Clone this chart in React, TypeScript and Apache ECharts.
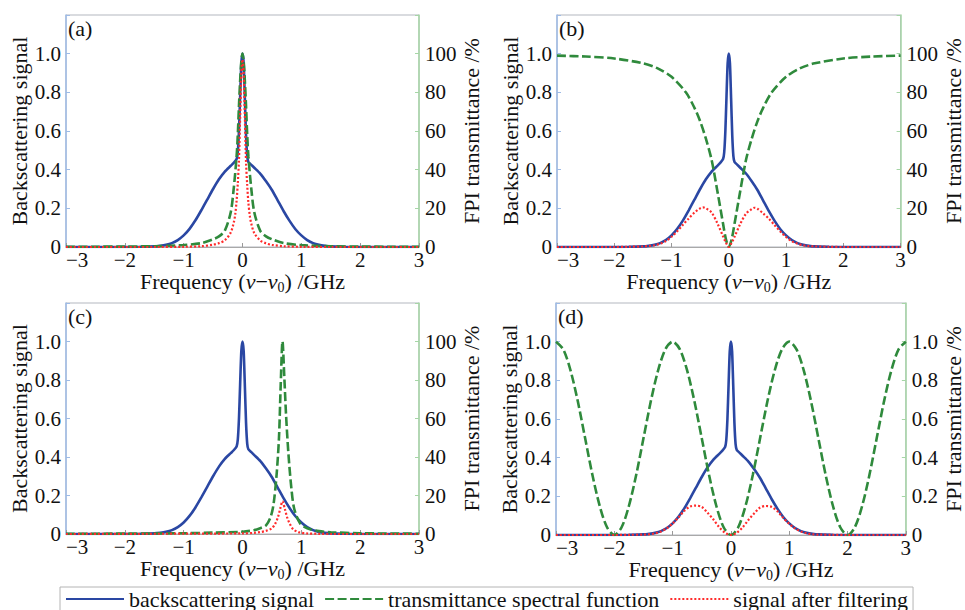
import React, { useEffect, useRef } from "react";
import * as echarts from "echarts";

// ---------- data ----------
const X_TICK_LABELS = ["\u22123", "\u22122", "\u22121", "0", "1", "2", "3"];
const LEFT_TICK_LABELS = ["0", "0.2", "0.4", "0.6", "0.8", "1.0"];
const RIGHT_PCT_LABELS = ["0", "20", "40", "60", "80", "100"];
const RIGHT_FRAC_LABELS = ["0", "0.2", "0.4", "0.6", "0.8", "1.0"];
const PANEL_LABELS = ["(a)", "(b)", "(c)", "(d)"];
const SERIES_NAMES = ["backscattering signal", "transmittance spectral function", "signal after filtering"];

// backscattering signal (same in all panels)
const X_BLUE = [-3, -2.5, -2, -1.75, -1.5, -1.4, -1.3, -1.2, -1.1, -1.0, -0.9, -0.8, -0.7, -0.6, -0.5, -0.4, -0.3, -0.2, -0.15, -0.1, -0.08, -0.06, -0.04, -0.02, 0, 0.02, 0.04, 0.06, 0.08, 0.1, 0.15, 0.2, 0.3, 0.4, 0.5, 0.6, 0.7, 0.8, 0.9, 1.0, 1.1, 1.2, 1.3, 1.4, 1.5, 1.75, 2, 2.5, 3];
const BLUE = [0, 0, 0, 0.001, 0.003, 0.006, 0.011, 0.02, 0.036, 0.06, 0.094, 0.138, 0.19, 0.245, 0.3, 0.35, 0.39, 0.42, 0.435, 0.455, 0.49, 0.6, 0.78, 0.95, 1.0, 0.95, 0.77, 0.58, 0.47, 0.44, 0.425, 0.41, 0.38, 0.34, 0.295, 0.24, 0.185, 0.135, 0.092, 0.06, 0.036, 0.02, 0.011, 0.006, 0.003, 0.001, 0, 0, 0];

// (a) transmittance (%) and filtered signal
const X_GA = [-3, -2.5, -2, -1.5, -1, -0.7, -0.5, -0.4, -0.3, -0.2, -0.15, -0.1, -0.08, -0.06, -0.04, -0.02, 0, 0.02, 0.04, 0.06, 0.08, 0.1, 0.15, 0.2, 0.3, 0.4, 0.5, 0.7, 1, 1.5, 2, 2.5, 3];
const GA = [0.1, 0.15, 0.25, 0.4, 1, 2, 4, 5.5, 8.5, 18, 30, 47, 58, 73, 86, 96, 100, 96, 86, 73, 58, 47, 30, 18, 8.5, 5.5, 4, 2, 1, 0.4, 0.25, 0.15, 0.1];
const X_RA = [-3, -2, -1.5, -1, -0.7, -0.5, -0.4, -0.3, -0.2, -0.15, -0.125, -0.1, -0.08, -0.06, -0.04, -0.02, 0, 0.02, 0.04, 0.06, 0.08, 0.1, 0.125, 0.15, 0.2, 0.3, 0.4, 0.5, 0.7, 1, 1.5, 2, 3];
const RA = [0, 0, 0, 0.001, 0.004, 0.012, 0.02, 0.035, 0.075, 0.125, 0.165, 0.24, 0.33, 0.45, 0.67, 0.9, 0.97, 0.9, 0.67, 0.44, 0.32, 0.23, 0.16, 0.12, 0.072, 0.034, 0.019, 0.011, 0.004, 0.001, 0, 0, 0];

// (b)
const X_GB = [-3, -2.5, -2, -1.5, -1.25, -1, -0.75, -0.6, -0.5, -0.4, -0.3, -0.2, -0.1, -0.05, 0, 0.05, 0.1, 0.2, 0.3, 0.4, 0.5, 0.6, 0.75, 1, 1.25, 1.5, 2, 2.5, 3];
const GB = [99, 98.5, 97.5, 95, 92.5, 88, 80, 72, 65, 56, 45, 29, 12, 4, 0, 4, 12, 29, 45, 56, 65, 72, 80, 88, 92.5, 95, 97.5, 98.5, 99];
const X_RB = [-3, -2, -1.75, -1.5, -1.4, -1.3, -1.2, -1.1, -1, -0.9, -0.8, -0.7, -0.6, -0.5, -0.45, -0.4, -0.3, -0.2, -0.1, -0.05, 0, 0.05, 0.1, 0.2, 0.3, 0.4, 0.45, 0.5, 0.6, 0.7, 0.8, 0.9, 1, 1.1, 1.2, 1.3, 1.4, 1.5, 1.75, 2, 3];
const RB = [0, 0, 0.001, 0.003, 0.005, 0.009, 0.017, 0.031, 0.053, 0.082, 0.115, 0.148, 0.178, 0.2, 0.205, 0.2, 0.178, 0.123, 0.055, 0.022, 0, 0.022, 0.053, 0.119, 0.172, 0.196, 0.203, 0.198, 0.174, 0.146, 0.113, 0.08, 0.052, 0.03, 0.017, 0.009, 0.005, 0.003, 0.001, 0, 0];

// (c)
const X_GC = [-3, -2, -1, -0.5, 0, 0.2, 0.3, 0.4, 0.48, 0.53, 0.58, 0.62, 0.65, 0.68, 0.71, 0.74, 0.78, 0.83, 0.88, 0.98, 1.1, 1.3, 1.5, 2, 3];
const GC = [0.1, 0.2, 0.4, 0.7, 1.2, 2, 3, 4.5, 9, 16, 31, 50, 78, 100, 82, 62, 42, 24, 13, 5.5, 3, 1.5, 0.9, 0.4, 0.15];
const X_RC = [-3, 0, 0.2, 0.3, 0.4, 0.5, 0.55, 0.6, 0.64, 0.68, 0.72, 0.76, 0.8, 0.86, 0.95, 1.1, 1.3, 1.5, 3];
const RC = [0, 0.003, 0.006, 0.01, 0.016, 0.03, 0.05, 0.085, 0.13, 0.17, 0.13, 0.085, 0.055, 0.025, 0.01, 0.003, 0.001, 0, 0];

// (d) transmittance (fraction) and filtered signal
const X_GD = [-3, -2.875, -2.75, -2.625, -2.5, -2.375, -2.25, -2.125, -2, -1.875, -1.75, -1.625, -1.5, -1.375, -1.25, -1.125, -1, -0.875, -0.75, -0.625, -0.5, -0.375, -0.25, -0.125, 0, 0.125, 0.25, 0.375, 0.5, 0.625, 0.75, 0.875, 1, 1.125, 1.25, 1.375, 1.5, 1.625, 1.75, 1.875, 2, 2.125, 2.25, 2.375, 2.5, 2.625, 2.75, 2.875, 3];
const GD = [1, 0.96, 0.85, 0.69, 0.5, 0.31, 0.15, 0.04, 0, 0.04, 0.15, 0.31, 0.5, 0.69, 0.85, 0.96, 1, 0.96, 0.85, 0.69, 0.5, 0.31, 0.15, 0.04, 0, 0.04, 0.15, 0.31, 0.5, 0.69, 0.85, 0.96, 1, 0.96, 0.85, 0.69, 0.5, 0.31, 0.15, 0.04, 0, 0.04, 0.15, 0.31, 0.5, 0.69, 0.85, 0.96, 1];
const X_RD = [-3, -2, -1.75, -1.5, -1.4, -1.3, -1.2, -1.1, -1, -0.9, -0.8, -0.7, -0.6, -0.5, -0.4, -0.3, -0.2, -0.1, -0.05, 0, 0.05, 0.1, 0.2, 0.3, 0.4, 0.5, 0.6, 0.7, 0.8, 0.9, 1, 1.1, 1.2, 1.3, 1.4, 1.5, 1.75, 2, 3];
const RD = [0, 0, 0.001, 0.002, 0.004, 0.009, 0.018, 0.035, 0.06, 0.09, 0.125, 0.147, 0.152, 0.145, 0.115, 0.08, 0.04, 0.011, 0.004, 0, 0.004, 0.011, 0.039, 0.078, 0.112, 0.142, 0.15, 0.145, 0.122, 0.088, 0.058, 0.034, 0.018, 0.009, 0.004, 0.002, 0.001, 0, 0];

// ---------- styling ----------
const FONT = "'Liberation Serif', 'Times New Roman', serif";
const TXT = "#111111";
const C_BLUE = "#2a47a3";
const C_GREEN = "#2f8a3c";
const C_RED = "#ff2b2b";

const GRIDS = [
  { left: 66, top: 15, width: 353, height: 232 },
  { left: 557, top: 15, width: 354, height: 232 },
  { left: 66, top: 303, width: 353, height: 231 },
  { left: 556, top: 303, width: 353, height: 232 },
];

const PANELS = [
  { gx: X_GA, g: GA, rx: X_RA, r: RA, rightMax: 120, rightInt: 20, rightLabels: RIGHT_PCT_LABELS },
  { gx: X_GB, g: GB, rx: X_RB, r: RB, rightMax: 120, rightInt: 20, rightLabels: RIGHT_PCT_LABELS },
  { gx: X_GC, g: GC, rx: X_RC, r: RC, rightMax: 120, rightInt: 20, rightLabels: RIGHT_PCT_LABELS },
  { gx: X_GD, g: GD, rx: X_RD, r: RD, rightMax: 1.2, rightInt: 0.2, rightLabels: RIGHT_FRAC_LABELS },
];

const pairs = (xs: number[], ys: number[]) => xs.map((x, i) => [x, ys[i]]);

function buildOption() {
  const grid: any[] = [];
  const xAxis: any[] = [];
  const yAxis: any[] = [];
  const series: any[] = [];
  const graphic: any[] = [];

  PANELS.forEach((p, i) => {
    const g = GRIDS[i];
    grid.push({ ...g, show: true, borderColor: "#b3b7bf", borderWidth: 1, backgroundColor: "transparent" });
    xAxis.push({
      type: "value",
      gridIndex: i,
      min: -3,
      max: 3,
      interval: 1,
      axisLine: { show: true, onZero: false, lineStyle: { color: "#a9a9a9", width: 1.2 } },
      axisTick: { show: true, inside: true, length: 4, lineStyle: { color: "#999" } },
      splitLine: { show: false },
      axisLabel: {
        margin: 5,
        fontFamily: FONT,
        fontSize: 21,
        lineHeight: 15,
        color: TXT,
        alignMinLabel: "left",
        formatter: (v: number) => X_TICK_LABELS[Math.round(v) + 3] ?? "",
      },
      name: "Frequency ({it|\u03bd}\u2212{it|\u03bd}{sub|0}) /GHz",
      nameLocation: "middle",
      nameGap: 19,
      nameTextStyle: {
        fontFamily: FONT,
        fontSize: 22,
        color: TXT,
        rich: {
          it: { fontFamily: FONT, fontSize: 22, fontStyle: "italic", color: TXT },
          sub: { fontFamily: FONT, fontSize: 14, color: TXT, padding: [12, 0, 0, 0] },
        },
      },
    });
    yAxis.push({
      type: "value",
      gridIndex: i,
      position: "left",
      min: 0,
      max: 1.2,
      interval: 0.2,
      axisLine: { show: true, onZero: false, lineStyle: { color: "#9ebbe6", width: 1.5 } },
      axisTick: { show: true, inside: true, length: 4, lineStyle: { color: "#9ebbe6" } },
      splitLine: { show: false },
      axisLabel: {
        margin: 5,
        fontFamily: FONT,
        fontSize: 21,
        lineHeight: 15,
        color: TXT,
        formatter: (v: number) => LEFT_TICK_LABELS[Math.round(v / 0.2)] ?? "",
      },
      name: "Backscattering signal",
      nameLocation: "middle",
      nameRotate: 90,
      nameGap: 36,
      nameTextStyle: { fontFamily: FONT, fontSize: 22, color: TXT },
    });
    yAxis.push({
      type: "value",
      gridIndex: i,
      position: "right",
      min: 0,
      max: p.rightMax,
      interval: p.rightInt,
      axisLine: { show: true, onZero: false, lineStyle: { color: "#a6d6a6", width: 1.5 } },
      axisTick: { show: true, inside: true, length: 4, lineStyle: { color: "#a6d6a6" } },
      splitLine: { show: false },
      axisLabel: {
        margin: 6,
        fontFamily: FONT,
        fontSize: 21,
        lineHeight: 15,
        color: TXT,
        formatter: (v: number) => p.rightLabels[Math.round(v / p.rightInt)] ?? "",
      },
      name: "FPI transmittance /%",
      nameLocation: "middle",
      nameRotate: 90,
      nameGap: 33,
      nameTextStyle: { fontFamily: FONT, fontSize: 22, color: TXT },
    });

    series.push({
      type: "line",
      name: SERIES_NAMES[0],
      xAxisIndex: i,
      yAxisIndex: 2 * i,
      data: pairs(X_BLUE, BLUE),
      symbol: "none",
      showSymbol: false,
      smooth: 0.2,
      lineStyle: { color: C_BLUE, width: 2.6, type: "solid" },
      itemStyle: { color: C_BLUE },
      z: 2,
    });
    series.push({
      type: "line",
      name: SERIES_NAMES[1],
      xAxisIndex: i,
      yAxisIndex: 2 * i + 1,
      data: pairs(p.gx, p.g),
      symbol: "none",
      showSymbol: false,
      smooth: 0.3,
      lineStyle: { color: C_GREEN, width: 2.6, type: [9, 3.5] },
      itemStyle: { color: C_GREEN },
      z: 3,
    });
    series.push({
      type: "line",
      name: SERIES_NAMES[2],
      xAxisIndex: i,
      yAxisIndex: 2 * i,
      data: pairs(p.rx, p.r),
      symbol: "none",
      showSymbol: false,
      smooth: 0.3,
      lineStyle: { color: C_RED, width: 2.2, type: [2, 2] },
      itemStyle: { color: C_RED },
      z: 4,
    });

    graphic.push({
      type: "text",
      left: g.left + 2,
      top: g.top + 2,
      style: { text: PANEL_LABELS[i], fontFamily: FONT, fontSize: 22, fill: TXT },
      z: 10,
    });
  });

  return {
    animation: false,
    backgroundColor: "#ffffff",
    grid,
    xAxis,
    yAxis,
    series,
    graphic,
    legend: {
      data: SERIES_NAMES,
      left: 60,
      top: 587,
      itemWidth: 58,
      itemHeight: 12,
      itemGap: 10,
      padding: [1, 5, 1, 5],
      borderColor: "#b4b4b4",
      borderWidth: 1,
      backgroundColor: "#ffffff",
      itemStyle: { opacity: 0, borderWidth: 0 },
      textStyle: { fontFamily: FONT, fontSize: 22, color: TXT },
    },
  };
}

export default function App() {
  const ref = useRef<HTMLDivElement>(null);
  useEffect(() => {
    if (!ref.current) return;
    const chart = echarts.init(ref.current, null, { renderer: "svg" });
    chart.setOption(buildOption() as any);
    return () => chart.dispose();
  }, []);
  return (
    <div
      ref={ref}
      style={{ position: "fixed", left: 0, top: 0, width: 965, height: 610, background: "#fff" }}
    />
  );
}
